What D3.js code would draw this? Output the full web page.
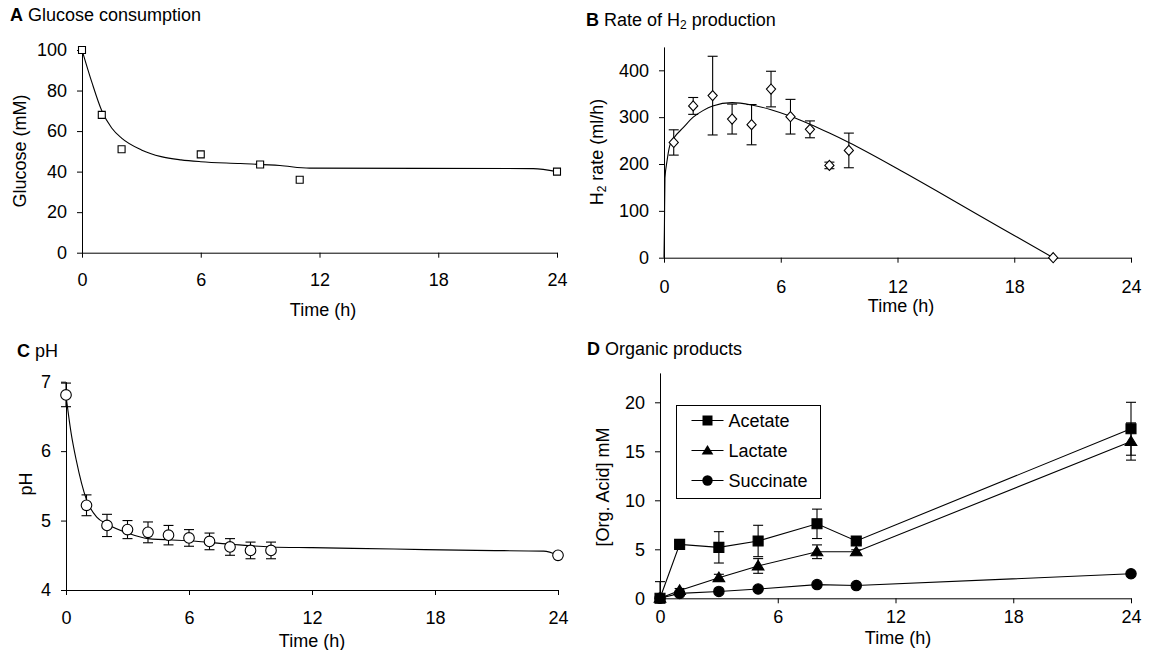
<!DOCTYPE html>
<html>
<head>
<meta charset="utf-8">
<script src="https://cdn.jsdelivr.net/npm/d3@7"></script>
<style>
  body { margin: 0; background: #fff; }
  svg text { font-family: "Liberation Sans", Arial, sans-serif; fill: #000; }
</style>
</head>
<body>
<div id="chart"></div>
<script>
// ---- data ----
const timeTicks = [0, 6, 12, 18, 24];

// A: glucose
const glucoseTime = [0, 1, 2, 6, 9, 11, 24];
const glucoseValue = [100, 68, 51, 48.5, 43.5, 36, 40];
const glucoseFitTime = [0, 0.5, 1, 1.5, 2, 3, 4, 5, 6, 8, 10, 11.5, 22.8, 24];
const glucoseFitValue = [100, 84, 70, 61.5, 56.5, 50.7, 47.4, 45.8, 44.9, 44, 43, 41.7, 41.5, 40];

// B: H2 rate
const h2Time = [0.5, 1.5, 2.5, 3.5, 4.5, 5.5, 6.5, 7.5, 8.5, 9.5, 20];
const h2Rate = [246, 324, 346, 296, 284, 360, 301, 274, 197, 229, 0];
const h2Err = [27, 18, 84, 32, 43, 38, 37, 18, 7, 37, 0];
const h2FitTime = [0, 0.02, 0.05, 0.15, 0.3, 0.5, 1, 1.5, 2, 2.5, 3.5, 4.5, 5.5, 6.5, 7.5, 8.5, 9.5, 12, 14, 16, 18, 20];
const h2FitValue = [0, 60, 170, 205, 240, 255, 278, 300, 314, 324, 331, 326, 316, 302, 285, 266, 246, 190, 143, 95, 47.5, 0];

// C: pH
const phTime = [0, 1, 2, 3, 4, 5, 6, 7, 8, 9, 10, 24];
const phValue = [6.81, 5.22, 4.93, 4.87, 4.83, 4.79, 4.75, 4.70, 4.62, 4.57, 4.57, 4.5];
const phErr = [0.17, 0.15, 0.16, 0.13, 0.15, 0.14, 0.12, 0.12, 0.12, 0.12, 0.12, 0];
const phFitTime = [0, 0.25, 0.5, 1, 1.5, 2, 3, 4, 6, 8, 10, 12, 16, 20, 23.3, 24];
const phFitValue = [6.8, 6.26, 5.87, 5.3, 5.05, 4.95, 4.82, 4.74, 4.71, 4.66, 4.62, 4.61, 4.59, 4.57, 4.56, 4.5];

// D: organic acids
const acidTime = [0, 1, 3, 5, 8, 10, 24];
const acetate = [0, 5.5, 5.2, 5.85, 7.6, 5.85, 17.3];
const acetateErr = [1.7, 0.3, 1.6, 1.6, 1.5, 0.2, 2.7];
const lactate = [0, 0.8, 2.1, 3.3, 4.75, 4.75, 16.0];
const lactateErr = [0, 0.2, 0.35, 0.75, 0.7, 0.2, 1.9];
const succinate = [0, 0.5, 0.7, 0.95, 1.4, 1.3, 2.5];
const succinateErr = [0, 0, 0, 0, 0, 0, 0];
const acidNames = ["Acetate", "Lactate", "Succinate"];

// ---- drawing ----
const svg = d3.select("#chart").append("svg")
  .attr("width", 1149)
  .attr("height", 650);

const fontSize = 18;

function makePanel(p) {
  const x = d3.scaleLinear().domain([0, 24]).range([p.left, p.right]);
  const y = d3.scaleLinear().domain(p.yDomain).range([p.bottom, p.top]).clamp(true);
  const g = svg.append("g");

  g.append("g")
    .attr("transform", `translate(0,${p.bottom})`)
    .call(d3.axisBottom(x).tickValues(timeTicks).tickSize(5).tickSizeOuter(0).tickPadding(p.xPad));
  g.append("g")
    .attr("transform", `translate(${p.left},0)`)
    .call(d3.axisLeft(y).tickValues(p.yTicks).tickFormat(d3.format("d")).tickSize(5).tickSizeOuter(0).tickPadding(10));
  g.selectAll(".domain, .tick line").attr("stroke", "#000").attr("stroke-width", 1);
  g.selectAll(".tick text").attr("font-size", fontSize).attr("font-family", null);

  // title
  const t = g.append("text").attr("x", p.titleX).attr("y", p.titleY).attr("font-size", fontSize);
  t.append("tspan").attr("font-weight", "bold").text(p.letter);
  p.title.forEach(s => {
    const ts = t.append("tspan").text(s.t);
    if (s.sub) ts.attr("font-size", 12).attr("baseline-shift", "-25%");
  });

  // x label
  g.append("text").attr("x", p.xLabelX).attr("y", p.xLabelY)
    .attr("text-anchor", "middle").attr("font-size", fontSize).text("Time (h)");

  // y label
  const yl = g.append("text")
    .attr("transform", `translate(${p.yLabelX},${p.yLabelY}) rotate(-90)`)
    .attr("text-anchor", "middle").attr("font-size", fontSize);
  p.yLabel.forEach(s => {
    const ts = yl.append("tspan").text(s.t);
    if (s.sub) ts.attr("font-size", 12).attr("baseline-shift", "-25%");
  });
  return { g, x, y };
}

function fitLine(panel, ts, vs) {
  const line = d3.line().x(d => panel.x(d[0])).y(d => panel.y(d[1])).curve(d3.curveMonotoneX);
  panel.g.append("path").datum(d3.zip(ts, vs))
    .attr("d", line).attr("fill", "none").attr("stroke", "#000").attr("stroke-width", 1.1);
}

function errorBars(panel, ts, vs, es, cap) {
  const eg = panel.g.append("g").attr("stroke", "#000").attr("stroke-width", 1.1);
  ts.forEach((t, i) => {
    if (!es[i]) return;
    const cx = panel.x(t), y1 = panel.y(vs[i] + es[i]), y0 = panel.y(vs[i] - es[i]);
    eg.append("line").attr("x1", cx).attr("x2", cx).attr("y1", y1).attr("y2", y0);
    eg.append("line").attr("x1", cx - cap).attr("x2", cx + cap).attr("y1", y1).attr("y2", y1);
    eg.append("line").attr("x1", cx - cap).attr("x2", cx + cap).attr("y1", y0).attr("y2", y0);
  });
}

const shapes = {
  square: s => `M${-s},${-s}H${s}V${s}H${-s}Z`,
  diamond: s => `M0,${-s * 1.1}L${s},0L0,${s * 1.1}L${-s},0Z`,
  triangle: s => `M0,${-s * 1.05}L${s * 1.1},${s * 0.75}L${-s * 1.1},${s * 0.75}Z`,
  circle: s => d3.arc()({ innerRadius: 0, outerRadius: s, startAngle: 0, endAngle: 2 * Math.PI })
};

function markers(panel, ts, vs, shape, size, fill) {
  panel.g.append("g").selectAll("path").data(d3.zip(ts, vs)).join("path")
    .attr("transform", d => `translate(${panel.x(d[0])},${panel.y(d[1])})`)
    .attr("d", shapes[shape](size))
    .attr("fill", fill).attr("stroke", "#000").attr("stroke-width", 1.1);
}

// Panel A
const pA = makePanel({
  left: 82, right: 557, top: 50, bottom: 252.7, yDomain: [0, 100], yTicks: d3.range(0, 101, 20), xPad: 16,
  letter: "A", title: [{ t: " Glucose consumption" }], titleX: 10, titleY: 21,
  xLabelX: 323, xLabelY: 316, yLabel: [{ t: "Glucose (mM)" }], yLabelX: 26, yLabelY: 151
});
fitLine(pA, glucoseFitTime, glucoseFitValue);
markers(pA, glucoseTime, glucoseValue, "square", 3.5, "#fff");

// Panel B
const pB = makePanel({
  left: 664, right: 1131, top: 46.9, bottom: 257.7, yDomain: [0, 450], yTicks: d3.range(0, 401, 100), xPad: 18,
  letter: "B", title: [{ t: " Rate of H" }, { t: "2", sub: true }, { t: " production" }], titleX: 586, titleY: 26,
  xLabelX: 901, xLabelY: 312, yLabel: [{ t: "H" }, { t: "2", sub: true }, { t: " rate (ml/h)" }], yLabelX: 603, yLabelY: 152
});
fitLine(pB, h2FitTime, h2FitValue);
errorBars(pB, h2Time, h2Rate, h2Err, 5);
markers(pB, h2Time, h2Rate, "diamond", 4.6, "#fff");

// Panel C
const pC = makePanel({
  left: 66, right: 558, top: 381.7, bottom: 590, yDomain: [4, 7], yTicks: [4, 5, 6, 7], xPad: 16,
  letter: "C", title: [{ t: " pH" }], titleX: 17, titleY: 357,
  xLabelX: 312, xLabelY: 647, yLabel: [{ t: "pH" }], yLabelX: 32, yLabelY: 484
});
fitLine(pC, phFitTime, phFitValue);
errorBars(pC, phTime, phValue, phErr, 5);
markers(pC, phTime, phValue, "circle", 5.3, "#fff");

// Panel D
const pD = makePanel({
  left: 660, right: 1131, top: 372.9, bottom: 598.3, yDomain: [0, 23], yTicks: d3.range(0, 21, 5), xPad: 7,
  letter: "D", title: [{ t: " Organic products" }], titleX: 587, titleY: 355,
  xLabelX: 898, xLabelY: 644, yLabel: [{ t: "[Org. Acid] mM" }], yLabelX: 609, yLabelY: 487
});
const acidSeries = [
  { vals: acetate, err: acetateErr, shape: "square", size: 5 },
  { vals: lactate, err: lactateErr, shape: "triangle", size: 5.3 },
  { vals: succinate, err: succinateErr, shape: "circle", size: 5.2 }
];
const straight = d3.line().x(d => pD.x(d[0])).y(d => pD.y(d[1]));
acidSeries.forEach(s => {
  pD.g.append("path").datum(d3.zip(acidTime, s.vals))
    .attr("d", straight).attr("fill", "none").attr("stroke", "#000").attr("stroke-width", 1.1);
  errorBars(pD, acidTime, s.vals, s.err, 5);
});
acidSeries.forEach(s => markers(pD, acidTime, s.vals, s.shape, s.size, "#000"));

// legend
const leg = pD.g.append("g").attr("transform", "translate(676.5,405.5)");
leg.append("rect").attr("width", 144).attr("height", 93)
  .attr("fill", "#fff").attr("stroke", "#000").attr("stroke-width", 1);
acidNames.forEach((name, i) => {
  const cy = 15 + i * 30;
  leg.append("line").attr("x1", 15).attr("x2", 47).attr("y1", cy).attr("y2", cy)
    .attr("stroke", "#000").attr("stroke-width", 1.1);
  leg.append("path").attr("transform", `translate(31,${cy})`)
    .attr("d", shapes[acidSeries[i].shape](acidSeries[i].size)).attr("fill", "#000");
  leg.append("text").attr("x", 52).attr("y", cy).attr("dy", "0.36em")
    .attr("font-size", 18).text(name);
});
</script>
</body>
</html>
